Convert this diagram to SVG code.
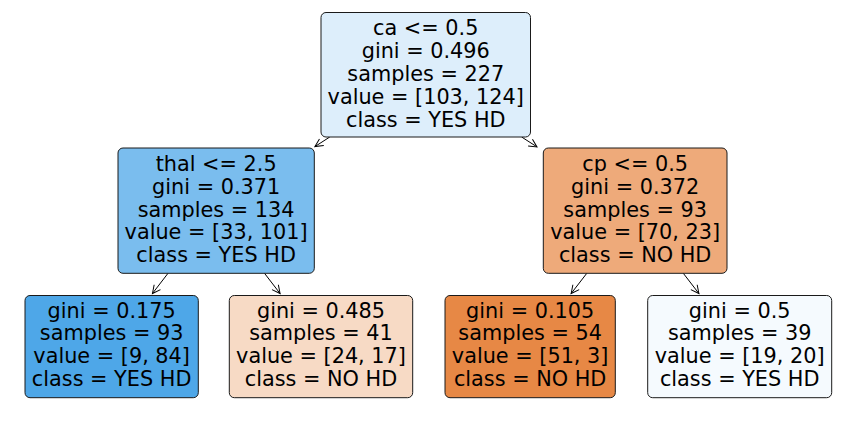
<svg xmlns="http://www.w3.org/2000/svg" width="851" height="422" viewBox="0 0 851 422">
<style>
.box{stroke:#1a1a1a;stroke-width:1}
.t{font-family:"DejaVu Sans",sans-serif;font-size:20.8px;fill:#000;text-anchor:middle}
.edge{stroke:#000;stroke-width:1;fill:none;marker-end:url(#ah)}
</style>
<defs>
<marker id="ah" markerUnits="userSpaceOnUse" viewBox="-10 -6 12 12" markerWidth="12" markerHeight="12" refX="0" refY="0" orient="auto" overflow="visible">
<path d="M-8,-4 L0,0 L-8,4" fill="none" stroke="#000" stroke-width="1"/>
</marker>
</defs>
<rect width="851" height="422" fill="#fff"/>
<g id="connectors">
<line class="edge" x1="329.75" y1="137" x2="314.9" y2="146.6"/>
<line class="edge" x1="521.65" y1="137" x2="537" y2="146.9"/>
<line class="edge" x1="168" y1="273.3" x2="152.45" y2="293.5"/>
<line class="edge" x1="264.5" y1="273.3" x2="280.07" y2="293.5"/>
<line class="edge" x1="586.8" y1="273.3" x2="571.15" y2="293.5"/>
<line class="edge" x1="683.3" y1="273.3" x2="698.9" y2="293.5"/>
</g>
<g id="node0">
<rect class="box" x="321" y="12.5" width="209.5" height="124.5" rx="5" fill="#ddeefb"/>
<text class="t" x="425.75" y="35.2">ca &lt;= 0.5</text>
<text class="t" x="425.75" y="58.1">gini = 0.496</text>
<text class="t" x="425.75" y="81">samples = 227</text>
<text class="t" x="425.75" y="103.9">value = [103, 124]</text>
<text class="t" x="425.75" y="126.8">class = YES HD</text>
</g>
<g id="node1">
<rect class="box" x="118" y="148" width="196.3" height="125.3" rx="5" fill="#7abdee"/>
<text class="t" x="216.15" y="170.7">thal &lt;= 2.5</text>
<text class="t" x="216.15" y="193.6">gini = 0.371</text>
<text class="t" x="216.15" y="216.5">samples = 134</text>
<text class="t" x="216.15" y="239.4">value = [33, 101]</text>
<text class="t" x="216.15" y="262.3">class = YES HD</text>
</g>
<g id="node4">
<rect class="box" x="543.3" y="148" width="183.7" height="125.3" rx="5" fill="#eeaa7a"/>
<text class="t" x="635.15" y="170.7">cp &lt;= 0.5</text>
<text class="t" x="635.15" y="193.6">gini = 0.372</text>
<text class="t" x="635.15" y="216.5">samples = 93</text>
<text class="t" x="635.15" y="239.4">value = [70, 23]</text>
<text class="t" x="635.15" y="262.3">class = NO HD</text>
</g>
<g id="node2">
<rect class="box" x="25" y="295.5" width="173.3" height="102.2" rx="5" fill="#4ea7e8"/>
<text class="t" x="111.65" y="317.55">gini = 0.175</text>
<text class="t" x="111.65" y="340.45">samples = 93</text>
<text class="t" x="111.65" y="363.35">value = [9, 84]</text>
<text class="t" x="111.65" y="386.25">class = YES HD</text>
</g>
<g id="node3">
<rect class="box" x="229.3" y="295.5" width="183.4" height="102.2" rx="5" fill="#f7dac5"/>
<text class="t" x="321" y="317.55">gini = 0.485</text>
<text class="t" x="321" y="340.45">samples = 41</text>
<text class="t" x="321" y="363.35">value = [24, 17]</text>
<text class="t" x="321" y="386.25">class = NO HD</text>
</g>
<g id="node5">
<rect class="box" x="445" y="295.5" width="170.3" height="102.2" rx="5" fill="#e78845"/>
<text class="t" x="530.15" y="317.55">gini = 0.105</text>
<text class="t" x="530.15" y="340.45">samples = 54</text>
<text class="t" x="530.15" y="363.35">value = [51, 3]</text>
<text class="t" x="530.15" y="386.25">class = NO HD</text>
</g>
<g id="node6">
<rect class="box" x="647.7" y="295.5" width="184" height="102.2" rx="5" fill="#f5fafe"/>
<text class="t" x="739.7" y="317.55">gini = 0.5</text>
<text class="t" x="739.7" y="340.45">samples = 39</text>
<text class="t" x="739.7" y="363.35">value = [19, 20]</text>
<text class="t" x="739.7" y="386.25">class = YES HD</text>
</g>
</svg>
